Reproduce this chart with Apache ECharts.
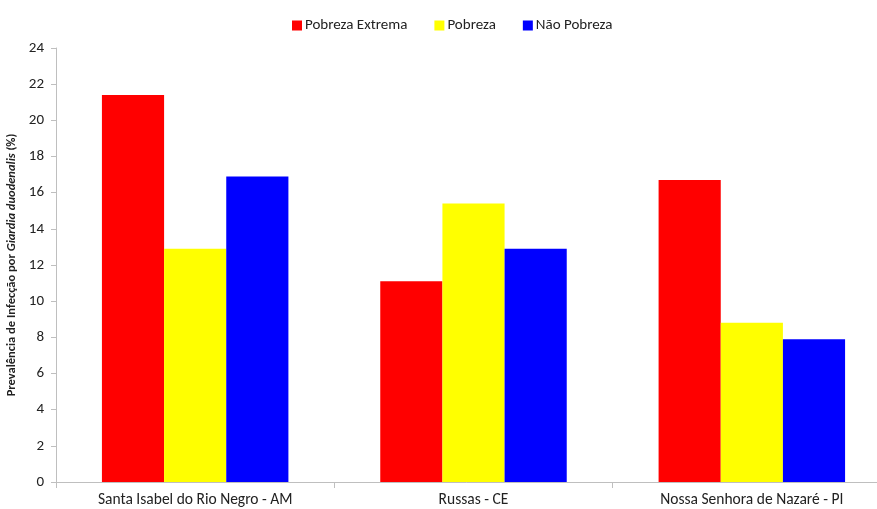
<!DOCTYPE html>
<html>
<head>
<meta charset="utf-8">
<script src="https://cdn.jsdelivr.net/npm/echarts@6/dist/echarts.min.js"></script>
<style>
  html, body { margin: 0; padding: 0; background: #fff; }
  #chart { width: 877px; height: 509px; }
</style>
</head>
<body>
<div id="chart"></div>
<script>
// dados
var municipios = ['Santa Isabel do Rio Negro - AM', 'Russas - CE', 'Nossa Senhora de Nazaré - PI'];
var pobrezaExtrema = [21.4, 11.1, 16.7];
var pobreza = [12.9, 15.4, 8.8];
var naoPobreza = [16.9, 12.9, 7.9];

var fonte = 'Calibri, Carlito, Lato, "Open Sans", sans-serif';

var myChart = echarts.init(document.getElementById('chart'));

var option = {
    animation: false,
    textStyle: { fontFamily: fonte },
    legend: {
        left: 287,
        top: 13,
        icon: 'rect',
        itemWidth: 10,
        itemHeight: 10,
        itemGap: 27,
        textStyle: { fontSize: 15, color: '#222', fontFamily: fonte, padding: [0, 0, 0, -2] },
        data: ['Pobreza Extrema', 'Pobreza', 'Não Pobreza']
    },
    grid: {
        left: 56,
        width: 835,
        top: 48,
        bottom: 27,
        outerBoundsMode: 'none',
        containLabel: false
    },
    xAxis: {
        type: 'category',
        data: municipios,
        axisLine: { lineStyle: { color: '#bfbfbf' } },
        axisTick: { show: true, length: 6, lineStyle: { color: '#bfbfbf' } },
        axisLabel: { fontSize: 15.5, color: '#222', margin: 10, fontFamily: fonte }
    },
    yAxis: {
        type: 'value',
        min: 0,
        max: 24,
        interval: 2,
        name: '{n|Prevalência de Infecção por }{i|Giardia duodenalis}{n| (%)}',
        nameLocation: 'middle',
        nameRotate: 90,
        nameGap: 34,
        nameTextStyle: {
            rich: {
                n: { fontSize: 12.5, fontWeight: 'bold', color: '#222', fontFamily: fonte },
                i: { fontSize: 12.5, fontWeight: 'bold', fontStyle: 'italic', color: '#222', fontFamily: fonte }
            }
        },
        axisLine: { show: true, lineStyle: { color: '#bfbfbf' } },
        axisTick: { show: true, length: 5, lineStyle: { color: '#bfbfbf' } },
        splitLine: { show: false },
        axisLabel: { fontSize: 15, color: '#222', margin: 12, fontFamily: fonte }
    },
    series: [{
        name: 'Pobreza Extrema',
        type: 'bar',
        data: pobrezaExtrema,
        barGap: '0%',
        barCategoryGap: '33%',
        itemStyle: { color: '#ff0000' }
    }, {
        name: 'Pobreza',
        type: 'bar',
        data: pobreza,
        itemStyle: { color: '#ffff00' }
    }, {
        name: 'Não Pobreza',
        type: 'bar',
        data: naoPobreza,
        itemStyle: { color: '#0000ff' }
    }]
};

myChart.setOption(option);
</script>
</body>
</html>
